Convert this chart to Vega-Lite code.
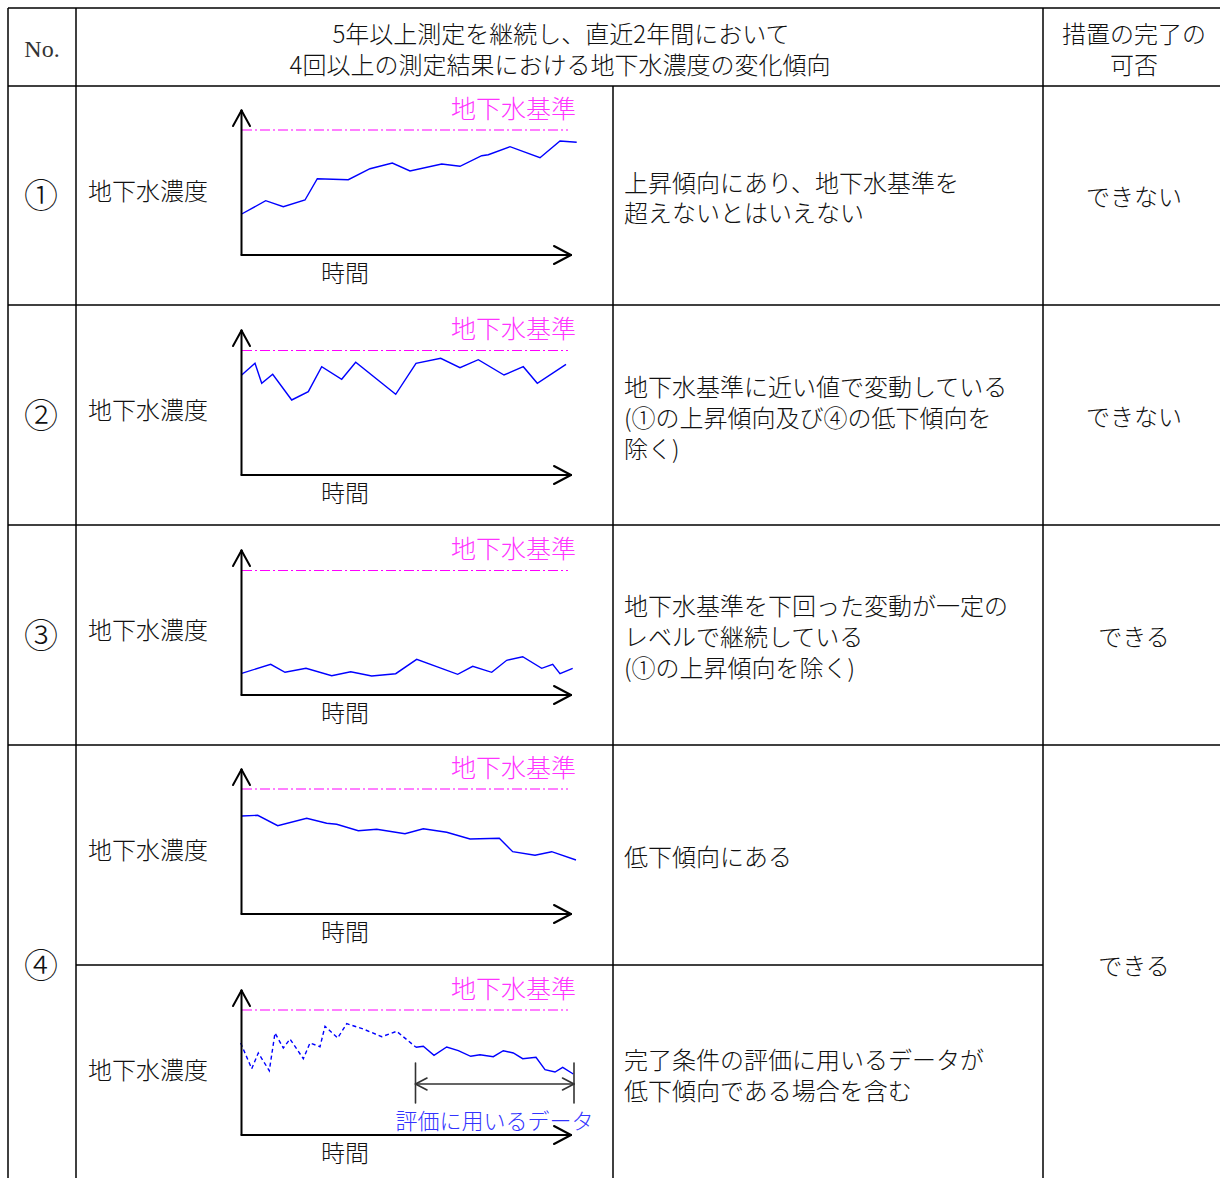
{
  "$schema": "https://vega.github.io/schema/vega-lite/v6.json",
  "width": 1220,
  "height": 1178,
  "padding": 0,
  "autosize": {"type": "none"},
  "background": "white",
  "config": {"view": {"stroke": null}},
  "datasets": {
    "grid": [
      {"x": 8, "y": 8, "x2": 1220, "y2": 8},
      {"x": 8, "y": 86, "x2": 1220, "y2": 86},
      {"x": 8, "y": 305, "x2": 1220, "y2": 305},
      {"x": 8, "y": 525, "x2": 1220, "y2": 525},
      {"x": 8, "y": 745, "x2": 1220, "y2": 745},
      {"x": 76, "y": 965, "x2": 1043, "y2": 965},
      {"x": 8, "y": 8, "x2": 8, "y2": 1178},
      {"x": 76, "y": 8, "x2": 76, "y2": 1178},
      {"x": 613, "y": 86, "x2": 613, "y2": 1178},
      {"x": 1043, "y": 8, "x2": 1043, "y2": 1178}
    ],
    "axes": [
      {"x": 241.5, "y": 110.5, "x2": 241.5, "y2": 255},
      {"x": 241.5, "y": 255, "x2": 571, "y2": 255},
      {"x": 241.5, "y": 110.5, "x2": 233, "y2": 126},
      {"x": 241.5, "y": 110.5, "x2": 250, "y2": 126},
      {"x": 571, "y": 255, "x2": 554, "y2": 246},
      {"x": 571, "y": 255, "x2": 554, "y2": 264},
      {"x": 241.5, "y": 330.5, "x2": 241.5, "y2": 475},
      {"x": 241.5, "y": 475, "x2": 571, "y2": 475},
      {"x": 241.5, "y": 330.5, "x2": 233, "y2": 346},
      {"x": 241.5, "y": 330.5, "x2": 250, "y2": 346},
      {"x": 571, "y": 475, "x2": 554, "y2": 466},
      {"x": 571, "y": 475, "x2": 554, "y2": 484},
      {"x": 241.5, "y": 550.5, "x2": 241.5, "y2": 695},
      {"x": 241.5, "y": 695, "x2": 571, "y2": 695},
      {"x": 241.5, "y": 550.5, "x2": 233, "y2": 566},
      {"x": 241.5, "y": 550.5, "x2": 250, "y2": 566},
      {"x": 571, "y": 695, "x2": 554, "y2": 686},
      {"x": 571, "y": 695, "x2": 554, "y2": 704},
      {"x": 241.5, "y": 769.5, "x2": 241.5, "y2": 914},
      {"x": 241.5, "y": 914, "x2": 571, "y2": 914},
      {"x": 241.5, "y": 769.5, "x2": 233, "y2": 785},
      {"x": 241.5, "y": 769.5, "x2": 250, "y2": 785},
      {"x": 571, "y": 914, "x2": 554, "y2": 905},
      {"x": 571, "y": 914, "x2": 554, "y2": 923},
      {"x": 241.5, "y": 990.5, "x2": 241.5, "y2": 1135},
      {"x": 241.5, "y": 1135, "x2": 571, "y2": 1135},
      {"x": 241.5, "y": 990.5, "x2": 233, "y2": 1006},
      {"x": 241.5, "y": 990.5, "x2": 250, "y2": 1006},
      {"x": 571, "y": 1135, "x2": 554, "y2": 1126},
      {"x": 571, "y": 1135, "x2": 554, "y2": 1144}
    ],
    "span": [
      {"x": 415.5, "y": 1063, "x2": 415.5, "y2": 1103},
      {"x": 574, "y": 1063, "x2": 574, "y2": 1103},
      {"x": 415.5, "y": 1084, "x2": 574, "y2": 1084},
      {"x": 415.5, "y": 1084, "x2": 427, "y2": 1078},
      {"x": 415.5, "y": 1084, "x2": 427, "y2": 1090},
      {"x": 574, "y": 1084, "x2": 562.5, "y2": 1078},
      {"x": 574, "y": 1084, "x2": 562.5, "y2": 1090}
    ],
    "standard": [
      {"x": 242, "y": 130, "x2": 568, "y2": 130},
      {"x": 242, "y": 350.5, "x2": 568, "y2": 350.5},
      {"x": 242, "y": 570.5, "x2": 568, "y2": 570.5},
      {"x": 242, "y": 789, "x2": 568, "y2": 789},
      {"x": 242, "y": 1010, "x2": 568, "y2": 1010}
    ],
    "series": [
      {"s": "1", "i": 0, "x": 241.7, "y": 214},
      {"s": "1", "i": 1, "x": 265.7, "y": 200.7},
      {"s": "1", "i": 2, "x": 283.3, "y": 206.7},
      {"s": "1", "i": 3, "x": 305, "y": 200},
      {"s": "1", "i": 4, "x": 317.3, "y": 178.7},
      {"s": "1", "i": 5, "x": 348.3, "y": 179.7},
      {"s": "1", "i": 6, "x": 370, "y": 168.7},
      {"s": "1", "i": 7, "x": 392.3, "y": 163},
      {"s": "1", "i": 8, "x": 410, "y": 171},
      {"s": "1", "i": 9, "x": 441.7, "y": 164},
      {"s": "1", "i": 10, "x": 460, "y": 166.3},
      {"s": "1", "i": 11, "x": 481.7, "y": 155.7},
      {"s": "1", "i": 12, "x": 488.3, "y": 154.7},
      {"s": "1", "i": 13, "x": 510, "y": 146.7},
      {"s": "1", "i": 14, "x": 540, "y": 157.7},
      {"s": "1", "i": 15, "x": 560, "y": 141},
      {"s": "1", "i": 16, "x": 576.7, "y": 142.3},
      {"s": "2", "i": 0, "x": 241.7, "y": 375},
      {"s": "2", "i": 1, "x": 255, "y": 363.3},
      {"s": "2", "i": 2, "x": 261.7, "y": 383.3},
      {"s": "2", "i": 3, "x": 272.7, "y": 374.3},
      {"s": "2", "i": 4, "x": 291.7, "y": 400},
      {"s": "2", "i": 5, "x": 308.3, "y": 391.7},
      {"s": "2", "i": 6, "x": 321.7, "y": 366.7},
      {"s": "2", "i": 7, "x": 341.7, "y": 379.3},
      {"s": "2", "i": 8, "x": 355.7, "y": 362.3},
      {"s": "2", "i": 9, "x": 395.7, "y": 394.3},
      {"s": "2", "i": 10, "x": 416, "y": 363.3},
      {"s": "2", "i": 11, "x": 440.7, "y": 358.3},
      {"s": "2", "i": 12, "x": 460, "y": 367.7},
      {"s": "2", "i": 13, "x": 478.3, "y": 359.7},
      {"s": "2", "i": 14, "x": 504, "y": 375},
      {"s": "2", "i": 15, "x": 523.3, "y": 366.7},
      {"s": "2", "i": 16, "x": 537.3, "y": 383.3},
      {"s": "2", "i": 17, "x": 566, "y": 364.3},
      {"s": "3", "i": 0, "x": 241.7, "y": 673.3},
      {"s": "3", "i": 1, "x": 270.7, "y": 664.3},
      {"s": "3", "i": 2, "x": 285, "y": 672.3},
      {"s": "3", "i": 3, "x": 306, "y": 668.3},
      {"s": "3", "i": 4, "x": 331.7, "y": 675.7},
      {"s": "3", "i": 5, "x": 350.7, "y": 671.7},
      {"s": "3", "i": 6, "x": 371.7, "y": 676},
      {"s": "3", "i": 7, "x": 395.7, "y": 673.7},
      {"s": "3", "i": 8, "x": 416.7, "y": 659.3},
      {"s": "3", "i": 9, "x": 457.7, "y": 674.3},
      {"s": "3", "i": 10, "x": 472.7, "y": 666.3},
      {"s": "3", "i": 11, "x": 491.7, "y": 672.3},
      {"s": "3", "i": 12, "x": 506.7, "y": 660.3},
      {"s": "3", "i": 13, "x": 522.7, "y": 656.7},
      {"s": "3", "i": 14, "x": 541.7, "y": 668.3},
      {"s": "3", "i": 15, "x": 552.7, "y": 664.3},
      {"s": "3", "i": 16, "x": 560, "y": 673.7},
      {"s": "3", "i": 17, "x": 572.7, "y": 668.3},
      {"s": "4a", "i": 0, "x": 241.7, "y": 816},
      {"s": "4a", "i": 1, "x": 257.7, "y": 815.3},
      {"s": "4a", "i": 2, "x": 277.7, "y": 825.7},
      {"s": "4a", "i": 3, "x": 306.7, "y": 818.3},
      {"s": "4a", "i": 4, "x": 326.7, "y": 823.3},
      {"s": "4a", "i": 5, "x": 336.7, "y": 824.3},
      {"s": "4a", "i": 6, "x": 358.3, "y": 830.7},
      {"s": "4a", "i": 7, "x": 376.7, "y": 829.3},
      {"s": "4a", "i": 8, "x": 405, "y": 833.7},
      {"s": "4a", "i": 9, "x": 423.3, "y": 828.7},
      {"s": "4a", "i": 10, "x": 446.7, "y": 832.3},
      {"s": "4a", "i": 11, "x": 470, "y": 839},
      {"s": "4a", "i": 12, "x": 499.3, "y": 838.3},
      {"s": "4a", "i": 13, "x": 512.7, "y": 851.7},
      {"s": "4a", "i": 14, "x": 535, "y": 855.3},
      {"s": "4a", "i": 15, "x": 551.7, "y": 851.7},
      {"s": "4a", "i": 16, "x": 576, "y": 860},
      {"s": "4b", "i": 0, "x": 416, "y": 1047.3},
      {"s": "4b", "i": 1, "x": 423.3, "y": 1046.3},
      {"s": "4b", "i": 2, "x": 434, "y": 1055.3},
      {"s": "4b", "i": 3, "x": 446.7, "y": 1047},
      {"s": "4b", "i": 4, "x": 458.3, "y": 1050.7},
      {"s": "4b", "i": 5, "x": 470.7, "y": 1056.3},
      {"s": "4b", "i": 6, "x": 480, "y": 1054.7},
      {"s": "4b", "i": 7, "x": 493.3, "y": 1056.7},
      {"s": "4b", "i": 8, "x": 503.3, "y": 1050.7},
      {"s": "4b", "i": 9, "x": 513.3, "y": 1053},
      {"s": "4b", "i": 10, "x": 522.7, "y": 1058.7},
      {"s": "4b", "i": 11, "x": 536, "y": 1057.3},
      {"s": "4b", "i": 12, "x": 545, "y": 1069.7},
      {"s": "4b", "i": 13, "x": 555, "y": 1072},
      {"s": "4b", "i": 14, "x": 562.7, "y": 1067.3},
      {"s": "4b", "i": 15, "x": 573.3, "y": 1074}
    ],
    "early": [
      {"s": "4b-early", "i": 0, "x": 240.7, "y": 1043},
      {"s": "4b-early", "i": 1, "x": 251.7, "y": 1068.7},
      {"s": "4b-early", "i": 2, "x": 258.3, "y": 1053},
      {"s": "4b-early", "i": 3, "x": 269.3, "y": 1070.7},
      {"s": "4b-early", "i": 4, "x": 275, "y": 1033},
      {"s": "4b-early", "i": 5, "x": 283.3, "y": 1048},
      {"s": "4b-early", "i": 6, "x": 290, "y": 1039},
      {"s": "4b-early", "i": 7, "x": 303.3, "y": 1058.7},
      {"s": "4b-early", "i": 8, "x": 310, "y": 1043},
      {"s": "4b-early", "i": 9, "x": 320, "y": 1046.7},
      {"s": "4b-early", "i": 10, "x": 325, "y": 1026.3},
      {"s": "4b-early", "i": 11, "x": 337.7, "y": 1038},
      {"s": "4b-early", "i": 12, "x": 346.7, "y": 1023.7},
      {"s": "4b-early", "i": 13, "x": 363.3, "y": 1029},
      {"s": "4b-early", "i": 14, "x": 381.7, "y": 1036.7},
      {"s": "4b-early", "i": 15, "x": 396.7, "y": 1031.3},
      {"s": "4b-early", "i": 16, "x": 416, "y": 1047.3}
    ],
    "ctext": [
      {"t": "5年以上測定を継続し、直近2年間において", "x": 561, "y": 34},
      {"t": "4回以上の測定結果における地下水濃度の変化傾向", "x": 560, "y": 65},
      {"t": "措置の完了の", "x": 1134, "y": 34},
      {"t": "可否", "x": 1134, "y": 65},
      {"t": "できない", "x": 1134, "y": 197},
      {"t": "できない", "x": 1134, "y": 417},
      {"t": "できる", "x": 1134, "y": 637},
      {"t": "できる", "x": 1134, "y": 966},
      {"t": "時間", "x": 345, "y": 273},
      {"t": "時間", "x": 345, "y": 493},
      {"t": "時間", "x": 345, "y": 713},
      {"t": "時間", "x": 345, "y": 932},
      {"t": "時間", "x": 345, "y": 1153}
    ],
    "numtext": [
      {"t": "①", "x": 41, "y": 196},
      {"t": "②", "x": 41, "y": 416},
      {"t": "③", "x": 41, "y": 636},
      {"t": "④", "x": 41, "y": 966}
    ],
    "ltext": [
      {"t": "地下水濃度", "x": 88, "y": 191},
      {"t": "地下水濃度", "x": 88, "y": 410},
      {"t": "地下水濃度", "x": 88, "y": 630},
      {"t": "地下水濃度", "x": 88, "y": 850},
      {"t": "地下水濃度", "x": 88, "y": 1070},
      {"t": "上昇傾向にあり、地下水基準を", "x": 624, "y": 183},
      {"t": "超えないとはいえない", "x": 624, "y": 213},
      {"t": "地下水基準に近い値で変動している", "x": 624, "y": 387},
      {"t": "(①の上昇傾向及び④の低下傾向を", "x": 624, "y": 418},
      {"t": "除く)", "x": 624, "y": 449},
      {"t": "地下水基準を下回った変動が一定の", "x": 624, "y": 606},
      {"t": "レベルで継続している", "x": 624, "y": 637},
      {"t": "(①の上昇傾向を除く)", "x": 624, "y": 668},
      {"t": "低下傾向にある", "x": 624, "y": 857},
      {"t": "完了条件の評価に用いるデータが", "x": 624, "y": 1060},
      {"t": "低下傾向である場合を含む", "x": 624, "y": 1091}
    ],
    "mtext": [
      {"t": "地下水基準", "x": 576, "y": 108},
      {"t": "地下水基準", "x": 576, "y": 328},
      {"t": "地下水基準", "x": 576, "y": 548},
      {"t": "地下水基準", "x": 576, "y": 767},
      {"t": "地下水基準", "x": 576, "y": 988}
    ],
    "btext": [
      {"t": "評価に用いるデータ", "x": 494.5, "y": 1120}
    ],
    "ntext": [
      {"t": "No.", "x": 42, "y": 49}
    ]
  },
  "encoding": {
    "x": {"field": "x", "type": "quantitative", "scale": {"domain": [0, 1220], "nice": false, "zero": false}, "axis": null},
    "y": {"field": "y", "type": "quantitative", "scale": {"domain": [0, 1178], "nice": false, "zero": false, "reverse": true}, "axis": null}
  },
  "layer": [
    {
      "data": {"name": "grid"},
      "mark": {"type": "rule", "color": "#000000", "strokeWidth": 1.5},
      "encoding": {"x2": {"field": "x2"}, "y2": {"field": "y2"}}
    },
    {
      "data": {"name": "standard"},
      "mark": {"type": "rule", "color": "#ff00ff", "strokeWidth": 1.2, "strokeDash": [10, 3, 2, 3]},
      "encoding": {"x2": {"field": "x2"}, "y2": {"field": "y2"}}
    },
    {
      "data": {"name": "series"},
      "mark": {"type": "line", "color": "#0000ff", "strokeWidth": 1.4},
      "encoding": {"detail": {"field": "s"}, "order": {"field": "i", "type": "quantitative"}}
    },
    {
      "data": {"name": "early"},
      "mark": {"type": "line", "color": "#0000ff", "strokeWidth": 1.4, "strokeDash": [4, 3]},
      "encoding": {"detail": {"field": "s"}, "order": {"field": "i", "type": "quantitative"}}
    },
    {
      "data": {"name": "axes"},
      "mark": {"type": "rule", "color": "#000000", "strokeWidth": 2, "strokeCap": "round"},
      "encoding": {"x2": {"field": "x2"}, "y2": {"field": "y2"}}
    },
    {
      "data": {"name": "span"},
      "mark": {"type": "rule", "color": "#333333", "strokeWidth": 1.6, "strokeCap": "round"},
      "encoding": {"x2": {"field": "x2"}, "y2": {"field": "y2"}}
    },
    {
      "data": {"name": "ctext"},
      "mark": {"type": "text", "align": "center", "baseline": "middle", "dy": 2, "font": "Noto Sans CJK JP", "fontWeight": 300, "fontSize": 24, "color": "#111111"},
      "encoding": {"text": {"field": "t"}}
    },
    {
      "data": {"name": "numtext"},
      "mark": {"type": "text", "align": "center", "baseline": "middle", "dy": 2, "font": "Noto Sans CJK JP", "fontWeight": 300, "fontSize": 34, "color": "#111111"},
      "encoding": {"text": {"field": "t"}}
    },
    {
      "data": {"name": "ltext"},
      "mark": {"type": "text", "align": "left", "baseline": "middle", "dy": 2, "font": "Noto Sans CJK JP", "fontWeight": 300, "fontSize": 24, "color": "#111111"},
      "encoding": {"text": {"field": "t"}}
    },
    {
      "data": {"name": "mtext"},
      "mark": {"type": "text", "align": "right", "baseline": "middle", "dy": 2, "font": "Noto Sans CJK JP", "fontWeight": 300, "fontSize": 25, "color": "#ff33ff"},
      "encoding": {"text": {"field": "t"}}
    },
    {
      "data": {"name": "btext"},
      "mark": {"type": "text", "align": "center", "baseline": "middle", "dy": 2, "font": "Noto Sans CJK JP", "fontWeight": 300, "fontSize": 22, "color": "#3333ff"},
      "encoding": {"text": {"field": "t"}}
    },
    {
      "data": {"name": "ntext"},
      "mark": {"type": "text", "align": "center", "baseline": "middle", "dy": 1, "font": "Liberation Serif", "fontSize": 24, "color": "#333333"},
      "encoding": {"text": {"field": "t"}}
    }
  ]
}
